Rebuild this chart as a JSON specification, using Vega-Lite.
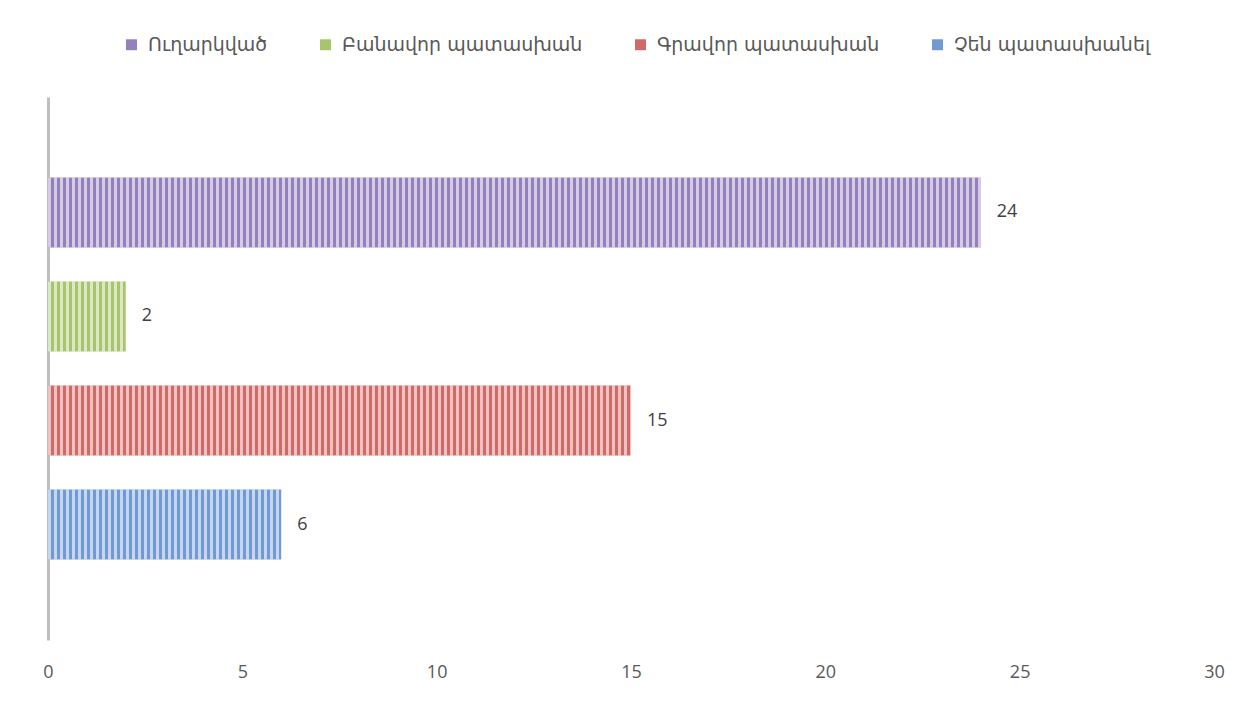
{
  "$schema": "https://vega.github.io/schema/vega-lite/v6.json",
  "width": 1166,
  "height": 543,
  "autosize": {"type": "none"},
  "padding": {"left": 48, "top": 97, "right": 45, "bottom": 61},
  "background": "white",
  "config": {
    "view": {"stroke": null},
    "font": "DejaVu Sans",
    "axis": {"grid": false}
  },
  "data": {
    "values": [
      {"series": "Ուղարկված", "value": 24},
      {"series": "Բանավոր պատասխան", "value": 2},
      {"series": "Գրավոր պատասխան", "value": 15},
      {"series": "Չեն պատասխանել", "value": 6}
    ]
  },
  "encoding": {
    "y": {
      "field": "series",
      "type": "nominal",
      "sort": null,
      "scale": {"paddingInner": 0.327, "paddingOuter": 0.774},
      "axis": {
        "title": null,
        "labels": false,
        "ticks": false,
        "domainColor": "#bfbfbf",
        "domainWidth": 3
      }
    },
    "x": {
      "field": "value",
      "type": "quantitative",
      "scale": {"domain": [0, 30], "nice": false},
      "axis": {
        "title": null,
        "values": [0, 5, 10, 15, 20, 25, 30],
        "domain": false,
        "ticks": false,
        "labelFlush": false,
        "labelFontSize": 18,
        "labelColor": "#595959",
        "labelPadding": 23,
        "labelFont": "Open Sans"
      }
    }
  },
  "layer": [
    {
      "mark": {"type": "bar"},
      "encoding": {
        "color": {
          "field": "series",
          "type": "nominal",
          "scale": {
            "domain": ["Ուղարկված", "Բանավոր պատասխան", "Գրավոր պատասխան", "Չեն պատասխանել"],
            "range": ["#9580bd", "#a8c56d", "#cf6a67", "#7199d2"]
          },
          "legend": {
            "title": null,
            "orient": "none",
            "legendX": 74,
            "legendY": -62,
            "direction": "horizontal",
            "symbolType": "square",
            "symbolSize": 120,
            "symbolStrokeWidth": 0,
            "labelFontSize": 19,
            "labelLimit": 0,
            "labelColor": "#595959",
            "labelOffset": 7,
            "columnPadding": 48
          }
        }
      }
    },
    {
      "mark": {"type": "rule", "stroke": "white", "strokeOpacity": 0.6, "strokeWidth": 70, "strokeDash": [3, 3], "strokeCap": "butt"},
      "encoding": {
        "x": {"datum": 0},
        "x2": {"field": "value"}
      }
    },
    {
      "mark": {"type": "text", "align": "left", "baseline": "middle", "dx": 16, "fontSize": 18, "color": "#404040", "font": "Open Sans"},
      "encoding": {
        "text": {"field": "value", "type": "quantitative"}
      }
    }
  ]
}
